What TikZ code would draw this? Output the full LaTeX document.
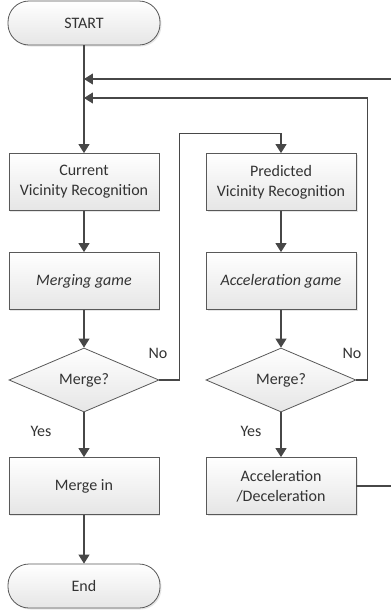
\documentclass[tikz,border=0pt]{standalone}
\usepackage{fontspec}
\setmainfont{Carlito}
\usetikzlibrary{shapes.geometric,arrows.meta,shadows}
\begin{document}
\begin{tikzpicture}[node distance=99pt, font=\fontsize{16}{20}\selectfont, text=black!80]

        % styles
        \tikzstyle{startend} = [rectangle, rounded corners=21pt, minimum width=152pt, minimum height=44pt, text centered, draw=black!65, line width=0.8pt, top color=white, bottom color=black!10, drop shadow={opacity=0.2, shadow xshift=1.5pt, shadow yshift=-1.5pt}]
        \tikzstyle{process} = [rectangle, minimum width=150pt, minimum height=57pt, align=center, draw=black!65, line width=0.8pt, top color=white, bottom color=black!10, drop shadow={opacity=0.2, shadow xshift=1.5pt, shadow yshift=-1.5pt}]
        \tikzstyle{decision} = [diamond, minimum width=150pt, minimum height=64pt, inner sep=0pt, text centered, draw=black!65, line width=0.8pt, top color=white, bottom color=black!10]
        \tikzstyle{arrow} = [line width=1.1pt, draw=black!72, -{Triangle[length=9pt,width=11pt]}]
        \tikzstyle{line} = [line width=1.1pt, draw=black!72]

        \useasboundingbox (-84pt,23pt) rectangle (307pt,-591pt);
        \clip (-84pt,23pt) rectangle (307pt,-591pt);

        % nodes
        \node (start) [startend] {START};
        \node (current) [process, below of=start, node distance=159pt] {Current\\Vicinity Recognition};
        \node (merging) [process, below of=current] {\itshape Merging game};
        \node (merge) [decision, below of=merging] {Merge?};
        \node (mergein) [process, below of=merge, node distance=106pt] {Merge in};
        \node (end) [startend, below of=mergein, node distance=100pt] {End};

        \node (predicted) [process, right of=current, node distance=197pt] {Predicted\\Vicinity Recognition};
        \node (accgame) [process, below of=predicted] {\itshape Acceleration game};
        \node (merge2) [decision, below of=accgame] {Merge?};
        \node (accdec) [process, below of=merge2, node distance=106pt] {Acceleration\\/Deceleration};

        \coordinate (in1) at ([yshift=-56pt]start.center);
        \coordinate (in2) at ([yshift=-75pt]start.center);

        % connections
        \draw [arrow] (start) -- (current);
        \draw [arrow] (current) -- (merging);
        \draw [arrow] (merging) -- (merge);
        \draw [arrow] (merge) -- (mergein);
        \draw [arrow] (mergein) -- (end);
        \draw [arrow] (merge.east) -- ++(20pt,0) |- ([yshift=20pt]predicted.north) -- (predicted.north);
        \draw [arrow] (predicted) -- (accgame);
        \draw [arrow] (accgame) -- (merge2);
        \draw [arrow] (merge2) -- (accdec);
        \draw [arrow] (merge2.east) -- ++(11pt,0) |- (in2);
        \draw [arrow] (accdec.east) -- ++(50pt,0) |- (in1);

        % labels
        \node (yes1) at ([shift={(-43pt,-51pt)}]merge.center) {Yes};
        \node (no1) at ([shift={(74pt,27pt)}]merge.center) {No};
        \node (yes2) at ([shift={(-30pt,-51pt)}]merge2.center) {Yes};
        \node (no2) at ([shift={(71pt,27pt)}]merge2.center) {No};

    \end{tikzpicture}
\end{document}
